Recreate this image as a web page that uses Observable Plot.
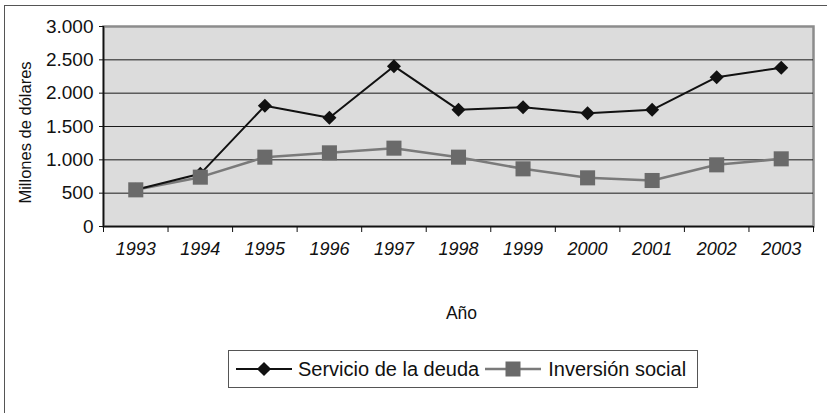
<!DOCTYPE html>
<html>
<head>
<meta charset="utf-8">
<script src="https://cdn.jsdelivr.net/npm/d3@7"></script>
<script src="https://cdn.jsdelivr.net/npm/@observablehq/plot@0.6"></script>
<style>
  html, body { margin: 0; padding: 0; background: #fff; overflow: hidden; }
  #wrap { position: relative; width: 827px; height: 413px; font-family: "Liberation Sans", Arial, sans-serif; }
  #outer { position: absolute; left: 4px; top: 5px; width: 900px; height: 500px; border: 1.5px solid #555; box-sizing: border-box; }
  #chart { position: absolute; left: 0; top: 0; }
  #legend { position: absolute; left: 228px; top: 350px; width: 470px; height: 38px; border: 1.2px solid #555; box-sizing: border-box; background: #fff; display: flex; align-items: center; font-size: 20px; color: #111; }
  #legend svg { display: block; }
  .item { display: flex; align-items: center; }
</style>
</head>
<body>
<div id="wrap">
  <div id="outer"></div>
  <div id="chart"></div>
  <div id="legend"></div>
</div>
<script>
const years = [1993, 1994, 1995, 1996, 1997, 1998, 1999, 2000, 2001, 2002, 2003];
const servicio = [550, 790, 1810, 1630, 2405, 1750, 1790, 1700, 1750, 2240, 2380];
const inversion = [550, 740, 1040, 1105, 1175, 1040, 865, 730, 690, 925, 1015];
const yTicks = [0, 500, 1000, 1500, 2000, 2500, 3000];
const seriesNames = ["Servicio de la deuda", "Inversión social"];
const yTitle = "Millones de dólares";
const xTitle = "Año";

const dataS = years.map((y, i) => ({year: y, value: servicio[i]}));
const dataI = years.map((y, i) => ({year: y, value: inversion[i]}));
const bounds = years.map(y => y - 0.5).concat([years[years.length - 1] + 0.5]);
const fmt = d => d3.format(",")(d).replace(/,/g, ".");

const colS = "#111111";
const colI = "#6a6a6a";
const colILine = "#7a7a7a";

const chart = Plot.plot({
  width: 827,
  height: 413,
  marginLeft: 103,
  marginRight: 14,
  marginTop: 26,
  marginBottom: 187,
  style: {fontFamily: '"Liberation Sans", Arial, sans-serif', background: "transparent", color: "#111"},
  x: {type: "linear", domain: [bounds[0], bounds[bounds.length - 1]]},
  y: {domain: [0, 3000]},
  marks: [
    Plot.frame({fill: "#dcdcdc", stroke: "#8c8c8c", strokeWidth: 2.5}),
    Plot.gridY(yTicks.slice(1, -1), {stroke: "#1a1a1a", strokeOpacity: 1, strokeWidth: 1}),
    Plot.axisY({ticks: yTicks, tickSize: 4, tickPadding: 6, tickFormat: fmt, fontSize: 19, label: null, stroke: "#111"}),
    Plot.axisX({ticks: bounds, tickSize: 6, tickFormat: () => "", label: null, stroke: "#111"}),
    Plot.axisX({ticks: years, tickSize: 0, tickPadding: 16, tickFormat: d => String(d), fontSize: 18, fontStyle: "italic", label: null}),
    Plot.ruleX([bounds[0]], {stroke: "#111", strokeWidth: 1.5}),
    Plot.ruleY([0], {stroke: "#111", strokeWidth: 1.5}),
    Plot.line(dataI, {x: "year", y: "value", stroke: colILine, strokeWidth: 2.5}),
    Plot.line(dataS, {x: "year", y: "value", stroke: colS, strokeWidth: 2}),
    Plot.dot(dataS, {x: "year", y: "value", symbol: "square", r: 5.6, rotate: 45, fill: colS, stroke: "none"}),
    Plot.dot(dataI, {x: "year", y: "value", symbol: "square", r: 8.5, fill: colI, stroke: "none"}),
    Plot.text([yTitle], {frameAnchor: "left", textAnchor: "middle", rotate: -90, dx: -78, dy: 6, fontSize: 16.5, fill: "#111"}),
    Plot.text([xTitle], {frameAnchor: "bottom", dx: 3, dy: 92, fontSize: 17.5, fill: "#111"})
  ]
});
document.getElementById("chart").appendChild(chart);

// Legend
const legend = d3.select("#legend");
function swatch(item, color, kind, lineW) {
  const s = item.append("svg").attr("width", 56).attr("height", 20);
  s.append("line").attr("x1", 0).attr("x2", 56).attr("y1", 10).attr("y2", 10)
    .attr("stroke", color).attr("stroke-width", lineW);
  if (kind === "diamond") {
    s.append("rect").attr("x", 28 - 5).attr("y", 10 - 5).attr("width", 10).attr("height", 10)
      .attr("transform", "rotate(45 28 10)").attr("fill", colS);
  } else {
    s.append("rect").attr("x", 28 - 7.5).attr("y", 10 - 7.5).attr("width", 15).attr("height", 15).attr("fill", colI);
  }
}
const it1 = legend.append("div").attr("class", "item").style("margin-left", "7px");
swatch(it1, colS, "diamond", 2);
it1.append("span").style("margin-left", "6px").text(seriesNames[0]);
const it2 = legend.append("div").attr("class", "item").style("margin-left", "6px");
swatch(it2, colILine, "square", 2.5);
it2.append("span").style("margin-left", "7px").text(seriesNames[1]);
</script>
</body>
</html>
